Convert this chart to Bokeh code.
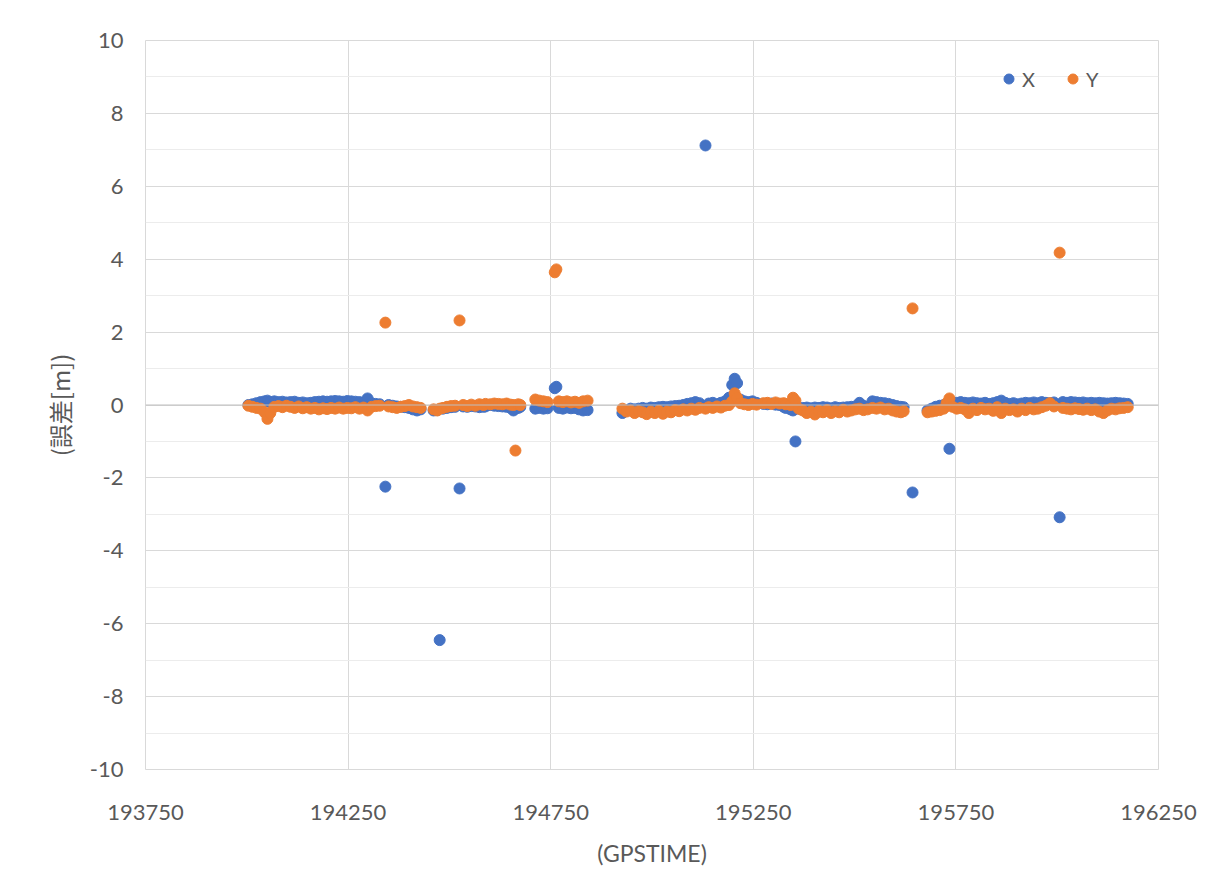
from bokeh.plotting import figure
from bokeh.models import (FixedTicker, Span, Legend, LegendItem, Range1d,
                          ColumnDataSource, NumeralTickFormatter)
from bokeh.embed import file_html
from bokeh.resources import INLINE

# ---------------- data ----------------
gps_time = [
    194004, 194014, 194024, 194034, 194044, 194051, 194058, 194068, 194078, 194088,
    194098, 194108, 194118, 194128, 194138, 194148, 194158, 194168, 194178, 194188,
    194198, 194208, 194218, 194228, 194238, 194248, 194258, 194268, 194278, 194288,
    194298, 194308, 194318, 194328, 194342, 194350, 194360, 194370, 194380, 194390,
    194400, 194410, 194420, 194429,
    194461, 194470, 194476, 194484, 194494, 194504, 194514, 194525, 194534, 194544,
    194554, 194564, 194574, 194584, 194589,
    194601, 194611, 194621, 194631, 194641, 194651, 194658, 194663, 194670, 194675,
    194712, 194722, 194732, 194742,
    194760, 194764,
    194770, 194780, 194790, 194800, 194810, 194820, 194830, 194841,
    194927, 194937, 194947, 194957, 194967, 194977, 194987, 194997, 195007, 195017,
    195027, 195037, 195047, 195057, 195067, 195077, 195087, 195097, 195107, 195117,
    195132, 195140, 195150, 195160, 195170, 195180, 195190, 195198, 195204, 195210,
    195218, 195228, 195238, 195248, 195258,
    195275, 195285, 195295, 195305, 195315, 195325, 195330,
    195342, 195348, 195354, 195362, 195372, 195382, 195392, 195402, 195412, 195422,
    195432, 195442, 195452, 195462, 195472, 195482, 195492, 195502, 195512, 195522,
    195532,
    195544, 195554, 195564, 195574, 195584, 195594, 195604, 195614, 195621,
    195643,
    195680, 195690, 195700, 195710, 195720, 195727, 195734, 195742, 195752, 195762,
    195772, 195782, 195792, 195802, 195812, 195822, 195832, 195842, 195852, 195862,
    195872, 195882, 195892, 195902, 195912, 195922, 195932, 195942, 195952, 195962,
    195972, 195982, 195992, 196006, 196014, 196024, 196034, 196044, 196054, 196064,
    196074, 196084, 196094, 196104, 196114, 196124, 196134, 196144, 196154, 196164,
    196174,
]

err_x = [
    0.00, 0.02, 0.05, 0.08, 0.10, 0.12, 0.08, 0.10, 0.08, 0.09,
    0.07, 0.08, 0.09, 0.06, 0.07, 0.05, 0.06, 0.08, 0.09, 0.10,
    0.09, 0.10, 0.11, 0.10, 0.09, 0.11, 0.10, 0.09, 0.08, 0.06,
    0.18, 0.05, 0.03, 0.02, -2.24, 0.00, -0.02, -0.04, -0.05, -0.06,
    -0.08, -0.12, -0.15, -0.12,
    -0.15, -0.14, -6.45, -0.10, -0.08, -0.06, -0.05, -2.29, -0.04, -0.05,
    -0.03, -0.04, -0.06, -0.05, -0.04,
    0.00, -0.02, -0.03, -0.04, -0.05, -0.08, -0.15, -0.10, -0.08, -0.05,
    -0.10, -0.08, -0.10, -0.09,
    0.46, 0.50,
    -0.08, -0.10, -0.07, -0.09, -0.08, -0.12, -0.15, -0.14,
    -0.22, -0.15, -0.10, -0.12, -0.10, -0.08, -0.10, -0.07, -0.08, -0.06,
    -0.05, -0.06, -0.04, -0.03, -0.02, 0.00, 0.03, 0.05, 0.08, 0.05,
    7.12, 0.04, 0.06, 0.02, 0.06, 0.10, 0.20, 0.55, 0.72, 0.60,
    0.15, 0.10, 0.08, 0.10, 0.06,
    0.03, 0.02, 0.04, 0.01, 0.00, -0.05, -0.08,
    -0.12, -0.15, -1.00, -0.10, -0.08, -0.07, -0.09, -0.07, -0.08, -0.06,
    -0.07, -0.09, -0.06, -0.08, -0.07, -0.06, -0.05, -0.04, 0.06, -0.02,
    -0.05,
    0.10, 0.08, 0.06, 0.05, 0.03, 0.00, -0.03, -0.05, -0.06,
    -2.40,
    -0.15, -0.10, -0.05, -0.02, 0.00, 0.03, -1.20, 0.05, 0.06, 0.08,
    0.06, 0.05, 0.07, 0.05, 0.04, 0.06, 0.03, 0.05, 0.08, 0.12,
    0.06, 0.03, 0.05, 0.02, 0.04, 0.06, 0.05, 0.07, 0.05, 0.08,
    0.06, 0.05, 0.07, -3.08, 0.08, 0.06, 0.08, 0.07, 0.06, 0.07,
    0.05, 0.06, 0.05, 0.06, 0.05, 0.04, 0.05, 0.06, 0.05, 0.04,
    0.03,
]

err_y = [
    -0.02, -0.05, -0.08, -0.10, -0.20, -0.38, -0.22, -0.05, -0.03, -0.06,
    -0.02, -0.05, -0.08, -0.04, -0.09, -0.06, -0.10, -0.08, -0.12, -0.09,
    -0.11, -0.08, -0.10, -0.07, -0.10, -0.08, -0.09, -0.06, -0.10, -0.07,
    -0.15, -0.05, -0.03, -0.02, 2.26, -0.04, -0.06, -0.08, -0.05, -0.03,
    0.00, -0.04, -0.06, -0.08,
    -0.12, -0.15, -0.10, -0.08, -0.05, -0.03, -0.02, 2.32, 0.00, -0.03,
    0.01, -0.02, 0.02, 0.00, 0.03,
    0.02, 0.04, 0.03, 0.02, 0.04, 0.01, 0.00, -1.25, 0.02, 0.00,
    0.15, 0.12, 0.10, 0.08,
    3.64, 3.72,
    0.10, 0.08, 0.10, 0.07, 0.09, 0.06, 0.10, 0.12,
    -0.10, -0.18, -0.15, -0.22, -0.17, -0.20, -0.25, -0.18, -0.22, -0.16,
    -0.24, -0.18, -0.20, -0.14, -0.17, -0.12, -0.15, -0.10, -0.13, -0.08,
    -0.10, -0.06, -0.08, -0.04, -0.07, -0.02, 0.00, 0.10, 0.32, 0.20,
    0.05, 0.02, 0.00, 0.03, 0.01,
    0.05, 0.06, 0.03, 0.07, 0.04, 0.05, 0.02,
    0.00, 0.20, 0.12, -0.10, -0.15, -0.22, -0.18, -0.26, -0.16, -0.20,
    -0.14, -0.22, -0.17, -0.20, -0.13, -0.18, -0.15, -0.12, -0.10, -0.14,
    -0.12,
    -0.08, -0.10, -0.07, -0.12, -0.10, -0.15, -0.18, -0.20, -0.17,
    2.65,
    -0.20, -0.18, -0.16, -0.14, -0.10, 0.05, 0.18, -0.05, -0.10, -0.08,
    -0.12, -0.22, -0.10, -0.14, -0.08, -0.12, -0.10, -0.16, -0.06, -0.22,
    -0.10, -0.14, -0.12, -0.18, -0.10, -0.14, -0.08, -0.12, -0.10, -0.06,
    -0.02, 0.05, -0.04, 4.18, -0.08, -0.10, -0.12, -0.09, -0.11, -0.13,
    -0.10, -0.14, -0.12, -0.18, -0.22, -0.15, -0.10, -0.12, -0.09, -0.08,
    -0.06,
]

x_ticks = [193750, 194250, 194750, 195250, 195750, 196250]
y_ticks = [-10, -8, -6, -4, -2, 0, 2, 4, 6, 8, 10]
y_minor = [-9, -7, -5, -3, -1, 1, 3, 5, 7, 9]
series_names = ["X", "Y"]
x_title = "(GPSTIME)"
y_title = "(誤差[m])"

# ---------------- figure ----------------
FONT = "Lato"
GREY = "#595959"
BLUE = "#4472C4"
ORANGE = "#ED7D31"

p = figure(frame_width=1013, frame_height=729,
           min_border_left=145, min_border_right=61,
           min_border_top=40, min_border_bottom=127,
           x_range=Range1d(x_ticks[0], x_ticks[-1]),
           y_range=Range1d(y_ticks[0], y_ticks[-1]),
           output_backend="svg", toolbar_location=None)

p.background_fill_color = "white"
p.border_fill_color = "white"
p.outline_line_color = "#d9d9d9"

p.xaxis.ticker = FixedTicker(ticks=x_ticks)
p.yaxis.ticker = FixedTicker(ticks=y_ticks, minor_ticks=y_minor)
p.xaxis.formatter = NumeralTickFormatter(format="0")
p.yaxis.major_label_overrides = {v: str(v) for v in y_ticks}

for ax in (p.xaxis, p.yaxis):
    ax.axis_line_color = None
    ax.major_tick_line_color = None
    ax.minor_tick_line_color = None
    ax.major_tick_out = 0
    ax.minor_tick_out = 0
    ax.major_label_text_font = FONT
    ax.major_label_text_font_size = "22px"
    ax.major_label_text_color = GREY
    ax.axis_label_text_color = GREY
    ax.axis_label_text_font_style = "normal"

p.xaxis.major_label_standoff = 35
p.yaxis.major_label_standoff = 22

p.xaxis.axis_label = x_title
p.xaxis.axis_label_text_font = FONT
p.xaxis.axis_label_text_font_size = "23px"
p.xaxis.axis_label_standoff = 16

p.yaxis.axis_label = y_title
p.yaxis.axis_label_text_font = "Noto Sans CJK JP"
p.yaxis.axis_label_text_font_size = "24px"
p.yaxis.axis_label_standoff = 10

p.xgrid.ticker = FixedTicker(ticks=x_ticks)
p.xgrid.grid_line_color = "#d9d9d9"
p.ygrid.grid_line_color = "#d9d9d9"
p.ygrid.minor_grid_line_color = "#ececec"

p.add_layout(Span(location=0, dimension="width", line_color="#bfbfbf", line_width=1))

src = ColumnDataSource(dict(t=gps_time, ex=err_x, ey=err_y))
r_x = p.scatter("t", "ex", source=src, size=11, color=BLUE, line_color=BLUE)
r_y = p.scatter("t", "ey", source=src, size=11, color=ORANGE, line_color=ORANGE)

legend = Legend(items=[LegendItem(label=series_names[0], renderers=[r_x]),
                       LegendItem(label=series_names[1], renderers=[r_y])],
                orientation="horizontal", location=(851, 678),
                glyph_width=25, glyph_height=25, label_standoff=1,
                spacing=25, padding=0, margin=0, label_width=12, label_height=20,
                background_fill_alpha=0, border_line_color=None,
                label_text_font=FONT, label_text_font_size="20px",
                label_text_color=GREY)
p.add_layout(legend)

open("out.html", "w").write(file_html(p, INLINE))
